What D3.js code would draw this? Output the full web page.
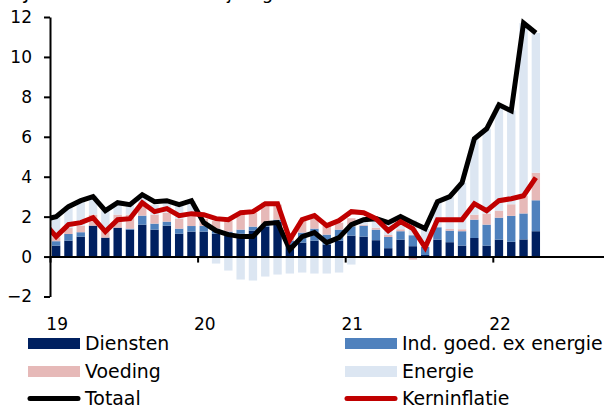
<!DOCTYPE html>
<html><head><meta charset="utf-8">
<script src="https://cdn.jsdelivr.net/npm/d3@7"></script>
<style>
body{margin:0;background:#fff}
svg{display:block}
text{font-family:"DejaVu Sans",Verdana,sans-serif;fill:#000}
</style>
</head><body>
<svg id="c" width="606" height="410"></svg>
<script>
// ---- data (Jan 2019 .. Apr 2022, monthly) ----
const months = [
 "2019-01","2019-02","2019-03","2019-04","2019-05","2019-06","2019-07","2019-08","2019-09","2019-10","2019-11","2019-12",
 "2020-01","2020-02","2020-03","2020-04","2020-05","2020-06","2020-07","2020-08","2020-09","2020-10","2020-11","2020-12",
 "2021-01","2021-02","2021-03","2021-04","2021-05","2021-06","2021-07","2021-08","2021-09","2021-10","2021-11","2021-12",
 "2022-01","2022-02","2022-03","2022-04"];
const diensten = [0.55,0.8,1.0,1.55,0.95,1.45,1.35,1.6,1.35,1.55,1.15,1.25,
 1.25,1.15,1.05,1.15,1.3,1.5,1.75,0.55,0.7,0.8,0.6,0.8,
 1.05,1.0,0.82,0.42,0.85,0.52,0.08,0.85,0.72,0.55,0.93,0.55,
 0.85,0.74,0.86,1.27];
const indGoed = [0.22,0.33,0.22,-0.05,0.0,-0.03,0.05,0.45,0.3,0.2,0.25,0.28,
 0.28,0.25,0.2,0.2,0.2,0.15,0.1,0.25,0.5,0.6,0.5,0.55,
 0.47,0.55,0.53,0.56,0.42,0.55,0.4,0.62,0.58,0.72,0.92,1.05,
 1.1,1.3,1.3,1.55];
const voeding = [0.2,0.3,0.33,0.55,0.35,0.65,0.7,0.5,0.45,0.45,0.5,0.55,
 0.35,0.4,0.55,0.8,0.7,1.05,0.75,0.35,0.6,0.65,0.45,0.35,
 0.4,0.05,0.1,0.1,0.1,-0.15,0.0,0.0,0.08,0.1,0.25,0.55,
 0.35,0.58,0.9,1.38];
const energie = [1.0,1.1,1.25,0.95,1.0,0.6,0.5,0.55,0.5,0.6,0.7,0.7,
 -0.1,-0.35,-0.7,-1.15,-1.2,-1.0,-0.9,-0.85,-0.8,-0.85,-0.85,-0.8,
 -0.4,0.3,0.45,0.6,0.65,0.75,0.9,1.25,1.62,2.33,3.8,4.25,
 5.3,4.7,8.64,7.0];
const totaal = [2.0,2.5,2.8,3.0,2.3,2.7,2.6,3.1,2.75,2.8,2.6,2.8,
 1.7,1.3,1.1,1.0,1.0,1.65,1.7,0.35,1.0,1.2,0.7,0.95,
 1.6,1.85,1.9,1.7,2.0,1.7,1.4,2.75,3.0,3.7,5.9,6.4,
 7.6,7.3,11.7,11.2];
const kern = [1.0,1.6,1.7,1.95,1.25,1.85,1.9,2.7,2.25,2.4,2.05,2.15,
 2.1,1.9,1.85,2.2,2.25,2.65,2.65,0.85,1.85,2.05,1.55,1.8,
 2.25,2.2,1.9,1.3,1.75,1.4,0.45,1.85,1.85,1.85,2.65,2.3,
 2.8,2.9,3.05,3.95];
// previous month (Dec 2018), only partly visible at the left edge
const totaalDec2018 = 1.85;
const kernDec2018 = 1.7;
const yTicks = [-2,0,2,4,6,8,10,12];
const yearLabels = ["19","20","21","22"];
const yearStartIndex = [0,12,24,36];
const seriesNames = ["Diensten","Ind. goed. ex energie","Voeding","Energie","Totaal","Kerninflatie"];

// ---- layout ----
const svg = d3.select("#c");
const mLeft = 50, mRight = 603.5, mTop = 17, mBottom = 296.5;
const nSlots = 45;
const x = d3.scaleLinear().domain([0, nSlots]).range([mLeft, mRight]);
const xb = d3.scaleBand().domain(d3.range(nSlots)).range([mLeft, mRight]).paddingInner(0.32).paddingOuter(0.16);
const y = d3.scaleLinear().domain([-2, 12]).range([mBottom, mTop]);
const colors = {d:"#002060", i:"#4f81bd", v:"#e6b9b8", e:"#dce6f2", t:"#000000", k:"#c00000"};

// title (cut off at the top edge, as in the source image)
svg.append("text").attr("x", 24).attr("y", -1).attr("font-size", 18)
  .text("Jaarmutatie HICP en bijdragen");

// stacked bars
const table = months.map((m, i) => ({i, d: diensten[i], ig: indGoed[i], v: voeding[i], e: energie[i]}));
const keys = ["d","ig","v","e"];
const keyColor = {d: colors.d, ig: colors.i, v: colors.v, e: colors.e};
const stacked = d3.stack().keys(keys).offset(d3.stackOffsetDiverging)(table);
svg.append("g").selectAll("g").data(stacked).join("g")
  .attr("fill", s => keyColor[s.key])
  .selectAll("rect").data(s => s).join("rect")
  .attr("x", p => xb(p.data.i))
  .attr("width", xb.bandwidth())
  .attr("y", p => y(Math.max(p[0], p[1])))
  .attr("height", p => Math.abs(y(p[0]) - y(p[1])));

// clip for lines
svg.append("clipPath").attr("id", "clip").append("rect")
  .attr("x", mLeft).attr("y", 0).attr("width", 606 - mLeft).attr("height", 410);

const lineGen = d3.line().x(p => x(p[0] + 0.5)).y(p => y(p[1]));
const totData = [[-1, totaalDec2018]].concat(totaal.map((v, i) => [i, v]));
const kernData = [[-1, kernDec2018]].concat(kern.map((v, i) => [i, v]));
const lg = svg.append("g").attr("clip-path", "url(#clip)");
lg.append("path").datum(totData).attr("d", lineGen)
  .attr("fill", "none").attr("stroke", colors.t).attr("stroke-width", 5);
lg.append("path").datum(kernData).attr("d", lineGen)
  .attr("fill", "none").attr("stroke", colors.k).attr("stroke-width", 5);

// y axis
const ya = svg.append("g").attr("transform", `translate(${mLeft},0)`)
  .call(d3.axisLeft(y).tickValues(yTicks).tickFormat(d3.format("d")).tickSize(6).tickSizeOuter(0).tickPadding(12));
ya.select(".domain").attr("stroke-width", 2);
ya.selectAll(".tick line").attr("stroke-width", 2);
ya.selectAll("text").attr("font-size", 17).style("font-family", '"DejaVu Sans",Verdana,sans-serif');

// x axis at zero
const xa = svg.append("g").attr("transform", `translate(0,${y(0)})`)
  .call(d3.axisBottom(x).tickValues(yearStartIndex).tickFormat((d, i) => yearLabels[i]).tickSize(6).tickSizeOuter(0));
xa.select(".domain").attr("stroke-width", 2);
xa.selectAll(".tick line").attr("stroke-width", 2);
xa.selectAll("text").attr("font-size", 17).style("font-family", '"DejaVu Sans",Verdana,sans-serif')
  .attr("y", 330 - y(0)).attr("dy", 0).attr("dx", x(0.5) - x(0) + 0.5);

// legend
const legend = [
  {name: seriesNames[0], c: colors.d, type: "rect", x: 28, y: 343.5},
  {name: seriesNames[1], c: colors.i, type: "rect", x: 345, y: 343.5},
  {name: seriesNames[2], c: colors.v, type: "rect", x: 28, y: 371.5},
  {name: seriesNames[3], c: colors.e, type: "rect", x: 345, y: 371.5},
  {name: seriesNames[4], c: colors.t, type: "line", x: 28, y: 398.5},
  {name: seriesNames[5], c: colors.k, type: "line", x: 345, y: 398.5}
];
const lgd = svg.append("g").selectAll("g").data(legend).join("g");
lgd.filter(d => d.type === "rect").append("rect")
  .attr("x", d => d.x).attr("y", d => d.y - 5.5).attr("width", 52).attr("height", 11).attr("fill", d => d.c);
lgd.filter(d => d.type === "line").append("line")
  .attr("x1", d => d.x + 2).attr("x2", d => d.x + 50).attr("y1", d => d.y).attr("y2", d => d.y)
  .attr("stroke", d => d.c).attr("stroke-width", 5).attr("stroke-linecap", "round");
lgd.append("text").attr("x", d => d.x + 57).attr("y", d => d.y + 6.8)
  .attr("font-size", 18.9).text(d => d.name);
</script>
</body></html>
